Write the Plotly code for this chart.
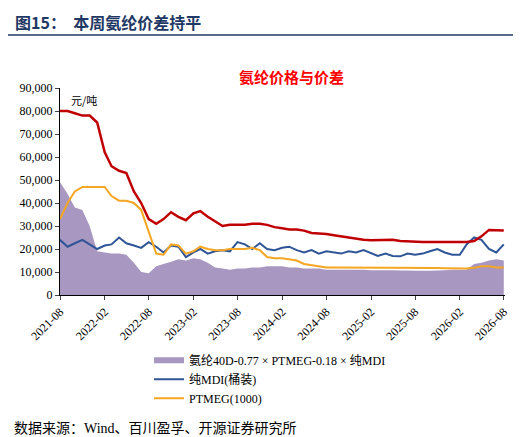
import pandas as pd
import plotly.graph_objects as go

dates = pd.date_range("2021-08-01", "2026-08-01", freq="MS")
spandex = [80000,80000,79000,78000,78000,75000,62000,56000,54000,53000,45000,40000,33000,31000,33000,36000,34000,32500,35500,36500,34000,32000,30000,30500,30500,30500,31000,31000,30500,29500,29000,28500,28500,28000,27000,26800,26500,26000,25500,25000,24500,24000,23800,23800,23800,24000,23500,23300,23000,23000,23000,23000,23000,23000,23000,23000,23500,25500,28300,28200,28000]
mdi = [24000,21000,22500,24000,22000,20000,21500,22000,25000,22500,21500,20500,23000,21000,18500,21500,21000,16500,18500,20000,18000,19000,19500,19000,23000,22000,20000,22500,20000,19500,20500,21000,19500,18500,19500,18000,19000,18500,18000,19000,18500,19500,18000,17000,18000,17000,16800,18000,17500,18000,19000,20000,18500,17500,17500,22000,25000,24000,20000,18500,22000]
ptmeg = [33000,40000,45000,47000,47000,47000,47000,43000,41000,41000,40000,37000,27000,18000,17500,22000,21500,18000,19000,21000,20000,19500,19500,20000,20000,20000,20500,19500,16500,16000,16000,15500,15000,13500,13000,12500,12000,12000,12000,12000,12000,12000,12000,12000,12000,12000,12000,12000,11800,11800,11700,11700,11600,11500,11500,11500,11800,12500,12500,12000,12000]
spread = [49000,44000,38000,37000,30000,19000,18500,18000,18000,17500,14000,10000,9500,12500,13500,14500,15500,15000,16000,15500,14000,12000,11500,11000,11500,11500,12000,12000,12500,12500,12500,12000,12000,11500,11500,11500,11000,11000,11000,11000,11000,11000,10800,10800,10800,10800,10600,10600,10500,10500,10500,10600,10800,11000,11000,11000,13500,14000,15000,15500,15000]
tickvals = pd.date_range("2021-08-01", "2026-08-01", freq="6MS")

serif = "Times New Roman, Liberation Serif, Noto Sans CJK SC"
fig = go.Figure()
fig.add_trace(go.Scatter(x=dates, y=spread, fill="tozeroy", mode="none", fillcolor="#A897C0",
                         name="氨纶40D-0.77 × PTMEG-0.18 × 纯MDI"))
fig.add_trace(go.Scatter(x=dates, y=mdi, mode="lines", line=dict(color="#2F5597", width=2), name="纯MDI(桶装)"))
fig.add_trace(go.Scatter(x=dates, y=ptmeg, mode="lines", line=dict(color="#F5A623", width=2), name="PTMEG(1000)"))
fig.add_trace(go.Scatter(x=dates, y=spandex, mode="lines", line=dict(color="#C00000", width=2.5), name="氨纶40D", showlegend=False))

fig.update_layout(
    width=521, height=437, margin=dict(l=52, r=24, t=80, b=150),
    paper_bgcolor="white", plot_bgcolor="white",
    font=dict(family=serif, size=12, color="black"),
    showlegend=True,
    legend=dict(x=0.2, y=-0.245, xanchor="left", yanchor="top", font=dict(size=12), tracegroupgap=0, itemwidth=30),
    xaxis=dict(tickvals=tickvals, tickformat="%Y-%m", tickangle=-45, showline=True, linecolor="black",
               ticks="outside", ticklen=4, range=[dates[0], dates[-1] + pd.Timedelta(days=5)], showgrid=False),
    yaxis=dict(range=[0, 90000], dtick=10000, tickformat=",", showline=True, linecolor="black",
               ticks="outside", ticklen=4, showgrid=False, zeroline=False),
)
fig.add_annotation(text="<b>图15：  本周氨纶价差持平</b>", x=0, y=1, xref="paper", yref="paper", xshift=-47, yshift=66,
                   showarrow=False, xanchor="left", yanchor="middle", font=dict(size=16, color="#1F3864", family="Noto Sans CJK SC"))
fig.add_shape(type="line", xref="paper", yref="paper", x0=-0.12, x1=1.06, y0=1.256, y1=1.256, line=dict(color="#1F3864", width=1.5))
fig.add_annotation(text="<b>氨纶价格与价差</b>", x=0.52, y=1, xref="paper", yref="paper", yshift=12,
                   showarrow=False, yanchor="middle", font=dict(size=15, color="#FF0000", family="Noto Sans CJK SC"))
fig.add_annotation(text="元/吨", x=0.02, y=85000, xref="paper", yref="y", showarrow=False, xanchor="left",
                   font=dict(size=11, family="Noto Sans CJK SC"))
fig.add_annotation(text="数据来源：Wind、百川盈孚、开源证券研究所", x=0, y=0, xref="paper", yref="paper",
                   xshift=-48, yshift=-133, showarrow=False, xanchor="left", yanchor="middle",
                   font=dict(size=14, family=serif))
fig.write_html("out.html")
